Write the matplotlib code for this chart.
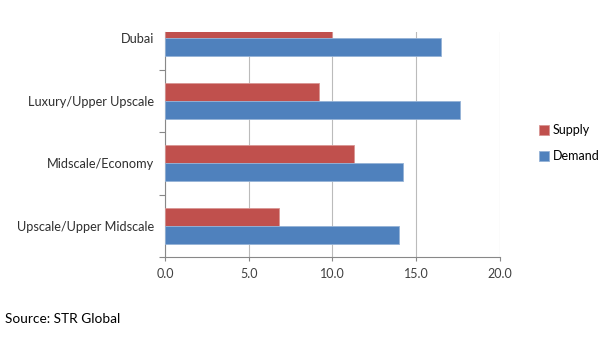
import numpy as np
import matplotlib.pyplot as plt

plt.rcParams['font.family'] = ['Lato', 'DejaVu Sans']

categorias = ['Upscale/Upper Midscale', 'Midscale/Economy', 'Luxury/Upper Upscale', 'Dubai']
supply = [6.8, 11.3, 9.2, 10.0]
demand = [14.0, 14.2, 17.6, 16.5]
xticks = [0, 5, 10, 15, 20]

cor_supply = '#C0504D'
cor_demand = '#4F81BD'

fig = plt.figure(figsize=(6, 3.48), dpi=100)
ax = fig.add_axes([0.275, 0.2615, 0.558, 0.6465])

y = np.arange(len(categorias))
h = 0.29
ax.barh(y + h / 2, supply, height=h, color=cor_supply, edgecolor='#D99694', linewidth=0.6,
        label='Supply', zorder=3)
ax.barh(y - h / 2, demand, height=h, color=cor_demand, edgecolor='#95B3D7', linewidth=0.6,
        label='Demand', zorder=3)

ax.set_xlim(0, 20)
ax.set_ylim(-0.5, 3.1)
ax.set_xticks(xticks)
ax.set_xticklabels([f'{v:.1f}' for v in xticks], fontsize=9, color='#404040')
ax.set_yticks(y)
ax.set_yticklabels(categorias, fontsize=9.2, color='#303030')
ax.set_yticks(np.arange(-0.5, 3.0, 1.0), minor=True)
ax.tick_params(axis='y', which='major', length=0, pad=8)
ax.tick_params(axis='y', which='minor', length=4, color='#888888', width=0.8)
ax.tick_params(axis='x', length=3, color='#888888', width=0.8, pad=5)

ax.grid(axis='x', color='#BBBBBB', linewidth=0.8, zorder=0)
for s in ['top', 'right']:
    ax.spines[s].set_visible(False)
ax.spines['left'].set_color('#888888')
ax.spines['bottom'].set_color('#888888')

leg = fig.legend(loc='upper left', bbox_to_anchor=(0.88, 0.675), frameon=False, fontsize=9,
                 handlelength=0.8, handleheight=0.8, labelspacing=1.1, handletextpad=0.3)

fig.text(0.008, 0.072, 'Source: STR Global', fontsize=9.8, color='#000000')

fig.savefig('out.png', dpi=100)
